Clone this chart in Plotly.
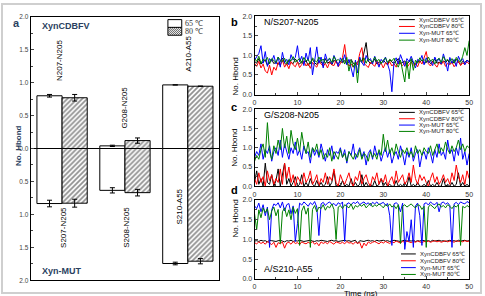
import plotly.graph_objects as go

# ---------------- Panel a data ----------------
PAIRS_POS = ["N207-N205", "G208-N205", "A210-A55"]
PAIRS_NEG = ["S207-N205", "S208-N205", "S210-A55"]
POS_65 = [0.80, 0.04, 0.965]
POS_65_ERR = [0.02, 0.01, 0.0]
POS_80 = [0.77, 0.12, 0.945]
POS_80_ERR = [0.05, 0.04, 0.0]
NEG_65 = [-0.835, -0.635, -1.745]
NEG_65_ERR = [0.05, 0.04, 0.02]
NEG_80 = [-0.83, -0.67, -1.71]
NEG_80_ERR = [0.06, 0.05, 0.04]
YTICK_VALS = [-2, -1.5, -1, -0.5, 0, 0.5, 1, 1.5, 2]
YTICK_TEXT = ["2.0", "1.5", "1.0", "0.5", "0.0", "0.5", "1.0", "1.5", "2.0"]
BAR_LEGEND = ["65 \u2103", "80 \u2103"]

# ---------------- Panels b-d data ----------------
TIME = [round(0.5 * i, 1) for i in range(101)]
SERIES_NAMES = ["XynCDBFV 65\u2103", "XynCDBFV 80\u2103", "Xyn-MUT 65\u2103", "Xyn-MUT 80\u2103"]
SERIES_COLORS = ["#000000", "#ff0000", "#0000ff", "#008000"]

B_K = [0.85,0.80,0.92,0.78,0.83,0.88,0.75,0.82,0.90,0.79,
       0.84,0.77,0.86,0.93,0.80,0.76,0.88,0.82,0.79,0.91,
       0.83,0.78,0.85,0.80,0.87,0.74,0.82,0.90,0.81,0.77,
       0.86,0.83,0.79,0.92,0.80,0.84,0.76,0.88,0.82,0.79,
       0.85,0.81,0.87,0.78,0.83,0.90,0.80,0.76,0.84,0.88,
       0.82,1.05,1.33,0.86,0.79,0.83,0.91,0.78,0.84,0.80,
       0.87,0.82,0.76,0.89,0.83,0.80,0.85,0.92,0.79,0.82,
       0.86,0.78,0.84,0.90,0.81,0.77,0.85,0.83,0.88,0.80,
       0.82,0.87,0.79,0.84,0.91,0.80,0.83,0.78,0.86,0.82,
       0.88,0.79,0.84,0.81,0.90,0.83,0.77,0.85,0.82,0.88,0.84]
B_R = [0.80,0.72,0.85,0.68,0.78,0.60,0.55,0.75,0.50,0.70,
       0.62,0.82,0.74,0.88,0.70,0.79,0.66,0.84,0.76,0.71,
       0.83,0.69,0.77,0.86,0.73,0.80,0.67,0.82,0.75,0.70,
       0.85,0.78,0.72,0.80,0.68,0.83,0.76,0.74,0.88,0.71,
       0.79,0.95,1.28,0.84,0.73,0.78,0.70,0.82,0.76,1.05,
       1.20,0.80,0.74,0.69,0.83,0.77,0.72,0.86,0.75,0.80,
       0.68,0.81,0.76,0.84,0.73,0.79,0.70,0.85,0.78,0.74,
       0.82,0.69,0.77,0.83,0.75,0.80,0.71,0.86,0.78,0.92,
       1.10,0.79,0.73,0.84,0.76,0.70,0.82,0.77,0.85,0.72,
       0.80,0.76,0.83,0.71,0.79,0.86,0.74,0.81,0.77,0.84,0.78]
B_B = [0.88,0.95,1.05,1.25,0.80,1.10,0.72,0.92,0.85,1.00,
       0.78,0.96,0.70,1.08,0.82,0.90,0.76,1.02,0.88,0.95,
       1.25,0.84,0.98,0.74,1.06,0.86,1.20,0.50,0.92,1.22,
       0.80,0.96,0.68,1.04,0.85,0.92,0.78,1.00,0.88,0.72,
       0.94,0.83,1.02,0.76,0.90,0.65,0.45,0.88,0.55,0.96,
       0.82,0.74,1.00,0.86,0.92,0.78,0.98,0.84,0.70,0.90,
       0.82,0.96,0.75,0.60,0.07,0.85,0.94,0.78,1.02,0.88,
       0.72,0.92,0.84,0.98,0.80,0.68,0.90,0.86,1.00,0.76,
       0.94,0.82,0.88,0.74,0.96,0.84,0.92,0.78,1.04,0.86,
       0.60,0.95,0.80,0.90,0.72,0.98,0.85,0.92,0.76,0.88,0.82]
B_G = [0.92,0.85,0.98,0.80,0.90,0.87,0.95,0.78,0.92,0.86,
       0.82,0.96,0.88,0.84,0.93,0.79,0.90,0.86,0.97,0.83,
       0.88,0.92,0.80,0.95,0.86,0.90,0.78,0.94,0.87,0.83,
       0.96,0.85,0.91,0.80,0.88,0.93,0.82,0.97,0.86,0.90,
       0.84,0.92,0.78,0.95,0.60,0.88,0.70,0.83,0.30,0.90,
       0.86,0.94,0.80,0.92,0.87,0.83,0.96,0.85,0.90,0.79,
       0.88,0.94,0.82,0.90,0.86,0.93,0.78,0.70,0.88,0.55,
       0.32,0.85,0.40,0.92,0.62,0.88,0.80,0.94,0.86,0.90,
       0.83,0.96,0.85,0.91,0.78,0.88,0.93,0.82,0.97,0.86,
       0.90,0.84,0.92,0.80,0.95,0.87,0.83,0.98,1.20,1.00,1.38]

C_K = [0.10,0.40,0.05,0.20,0.00,0.60,0.10,0.05,0.30,0.00,
       0.15,0.45,0.00,0.35,0.60,0.05,0.20,0.00,0.10,0.25,
       0.00,0.05,0.30,0.00,0.10,0.00,0.20,0.05,0.00,0.15,
       0.00,0.10,0.00,0.05,0.25,0.00,0.10,0.40,0.00,0.05,
       0.00,0.15,0.00,0.05,0.00,0.20,0.00,0.10,0.00,0.05,
       0.30,0.00,0.10,0.00,0.05,0.00,0.15,0.00,0.05,0.20,
       0.00,0.10,0.00,0.05,0.00,0.00,0.15,0.00,0.05,0.00,
       0.10,0.00,0.25,0.00,0.05,0.00,0.10,0.00,0.00,0.05,
       0.00,0.15,0.00,0.05,0.00,0.10,0.00,0.00,0.20,0.00,
       0.05,0.00,0.10,0.00,0.05,0.35,0.00,0.10,0.00,0.05,0.00]
C_R = [0.20,0.05,0.35,0.10,0.25,0.00,0.40,0.15,0.30,0.05,
       0.20,0.10,0.45,0.05,0.60,0.20,0.50,0.10,0.30,0.00,
       0.25,0.15,0.05,0.35,0.10,0.20,0.40,0.05,0.15,0.30,
       0.00,0.20,0.10,0.35,0.05,0.25,0.15,0.45,0.10,0.00,
       0.30,0.15,0.05,0.20,0.35,0.10,0.00,0.25,0.15,0.40,
       0.05,0.20,0.30,0.10,0.00,0.25,0.15,0.35,0.05,0.20,
       0.10,0.30,0.00,0.15,0.25,0.05,0.40,0.10,0.20,0.30,
       0.05,0.15,0.35,0.10,0.55,0.20,0.05,0.30,0.15,0.25,
       0.10,0.00,0.20,0.35,0.10,0.25,0.05,0.15,0.30,0.10,
       0.20,0.05,0.35,0.15,0.55,0.25,0.10,0.30,0.05,0.40,0.20]
C_B = [0.75,0.90,0.80,1.10,0.70,0.95,0.85,1.05,0.65,0.90,
       1.00,0.80,1.20,0.75,1.10,0.90,0.70,1.00,0.85,1.15,
       0.80,0.95,0.70,1.05,0.85,0.90,0.60,1.00,0.80,0.95,
       0.75,1.10,0.85,0.65,0.95,0.80,1.05,0.70,0.90,0.85,
       1.00,0.75,0.95,0.60,0.90,0.80,1.10,0.70,0.85,1.00,
       0.75,0.90,0.55,0.85,0.95,0.70,1.05,0.80,0.90,0.65,
       0.85,1.00,0.75,0.95,0.60,0.80,0.90,0.70,1.05,0.85,
       0.55,0.90,0.75,1.00,0.65,0.85,0.95,0.50,0.80,0.90,
       0.70,1.00,0.85,0.60,0.95,0.75,1.10,0.80,0.90,0.70,
       1.20,0.85,0.95,0.65,1.00,0.80,1.25,0.70,0.90,0.55,0.85]
C_G = [0.65,0.80,0.70,0.95,1.10,0.75,1.65,0.90,0.70,1.05,
       0.85,1.20,0.95,1.50,1.00,1.30,0.85,1.45,1.10,0.95,
       1.25,0.90,1.40,1.05,0.85,1.15,0.75,1.00,0.90,1.10,
       0.80,0.95,0.70,0.85,0.75,1.00,0.65,0.90,0.80,0.70,
       0.95,0.75,0.85,0.65,0.90,0.80,0.70,0.85,0.75,0.95,
       0.70,0.85,0.80,0.65,0.90,0.75,0.85,0.70,0.95,0.80,
       1.35,0.90,1.20,0.85,1.00,0.80,1.10,0.90,0.75,0.95,
       0.85,1.00,0.80,0.90,0.75,1.05,0.85,0.95,0.80,1.00,
       0.90,0.85,1.05,0.80,0.95,1.10,0.85,1.00,0.90,1.15,
       0.95,0.85,1.05,0.90,1.00,1.20,0.95,1.10,0.90,1.05,1.00]

D_K = [0.96,0.97,0.95,0.98,0.96,0.97,0.94,0.98,0.97,0.96,
       0.95,0.97,0.98,0.96,0.94,0.97,0.96,0.98,0.95,0.97,
       0.96,0.98,0.97,0.95,0.96,0.97,0.98,0.96,0.95,0.97,
       0.96,0.98,0.97,0.96,0.95,0.97,0.98,0.96,0.97,0.95,
       0.96,0.97,0.98,0.96,0.97,0.95,0.96,0.98,0.90,0.97,
       0.96,0.95,0.97,0.98,0.96,0.97,0.95,0.98,0.96,0.97,
       0.98,0.96,0.97,0.95,0.96,0.98,0.97,0.96,0.95,0.97,
       0.98,0.96,0.97,0.96,0.98,0.95,0.97,0.96,0.98,0.97,
       0.96,0.97,0.95,0.98,0.96,0.97,0.98,0.96,0.97,0.95,
       0.97,0.98,0.96,0.97,0.95,0.98,0.96,0.97,0.98,0.96,0.97]
D_R = [0.92,0.89,0.94,0.90,0.93,0.88,0.95,0.91,0.87,0.93,
       0.80,0.92,0.89,0.94,0.78,0.91,0.93,0.88,0.95,0.90,
       0.92,0.87,0.94,0.91,0.89,0.93,0.90,0.95,0.88,0.92,
       0.84,0.94,0.90,0.93,0.89,0.95,0.91,0.88,0.94,0.92,
       0.90,0.93,0.89,0.95,0.91,0.92,0.88,0.94,0.90,0.93,
       0.78,0.91,0.84,0.94,0.90,0.93,0.95,0.92,0.89,0.94,
       0.91,0.95,0.93,0.90,0.94,0.92,0.96,0.93,0.91,0.95,
       0.93,0.96,0.94,0.92,0.95,0.93,0.96,0.94,0.92,0.95,
       0.94,0.96,0.93,0.95,0.97,0.94,0.96,0.93,0.95,0.97,
       0.94,0.96,0.95,0.93,0.97,0.95,0.96,0.94,0.97,0.95,0.96]
D_B = [1.85,1.78,1.92,1.70,1.88,1.60,1.82,0.80,1.75,1.90,
       1.86,1.93,1.80,1.95,1.72,1.88,1.91,1.65,1.85,0.95,
       1.40,1.92,1.87,1.95,1.90,1.84,1.93,1.88,1.96,1.82,
       1.10,1.90,1.94,1.86,1.92,1.95,1.88,1.91,1.85,1.93,
       1.89,1.95,0.95,1.90,1.93,1.87,1.94,1.91,1.96,1.88,
       1.92,1.95,1.89,1.93,1.86,1.94,1.90,1.95,1.88,1.92,
       1.94,1.87,1.91,1.60,0.85,1.90,1.93,1.88,1.70,1.92,
       0.75,1.20,0.95,1.50,0.80,1.85,1.92,1.60,0.85,1.90,
       1.93,1.87,1.95,1.90,1.88,1.94,1.70,1.92,1.95,1.89,
       1.93,1.86,0.80,1.90,1.94,1.88,1.95,1.92,1.90,1.96,1.93]
D_G = [1.65,1.25,1.75,1.55,1.80,1.68,1.78,1.50,1.72,1.82,
       1.60,1.76,0.90,1.70,1.80,1.58,1.75,1.50,1.82,1.66,
       1.78,0.85,1.72,1.85,1.64,1.80,0.80,1.76,1.86,1.70,
       1.82,1.78,1.88,1.74,1.84,1.80,1.90,1.76,1.00,1.82,
       1.86,1.78,1.88,1.84,1.80,1.90,1.76,1.86,1.82,1.88,
       1.84,1.90,1.80,1.86,1.92,1.82,1.88,1.84,1.90,1.86,
       1.80,1.88,1.84,1.90,1.82,1.86,1.78,1.88,0.90,1.84,
       1.88,1.82,1.86,1.90,1.84,1.80,1.88,1.86,1.76,1.84,
       0.80,1.82,1.88,1.84,1.78,1.86,1.90,1.82,1.86,1.80,
       1.88,1.84,1.78,1.86,1.82,1.88,0.85,1.84,1.80,1.86,1.82]

PANEL_SERIES = [[B_K, B_R, B_B, B_G], [C_K, C_R, C_B, C_G], [D_K, D_R, D_B, D_G]]
PANEL_TITLES = ["N/S207-N205", "G/S208-N205", "A/S210-A55"]
PANEL_LETTERS = ["b", "c", "d"]
XTICKS = [0, 10, 20, 30, 40, 50]

W, H = 485, 296
def px(x):
    return x / W
def py(y):
    return 1 - y / H

FONT = "Liberation Sans, Arial, sans-serif"
TICKFONT = dict(family=FONT, size=7, color="#333")

fig = go.Figure()
shapes = []
annotations = []

# ---------------- Panel a bars ----------------
hatch = dict(shape="/", fgcolor="#222222", bgcolor="white", size=3.5, solidity=0.5)
bar_line = dict(color="black", width=1)
xs = [0, 1, 2]
for vals, errs, off, pat in [(POS_65, POS_65_ERR, -0.4, None), (POS_80, POS_80_ERR, 0, hatch),
                             (NEG_65, NEG_65_ERR, -0.4, None), (NEG_80, NEG_80_ERR, 0, hatch)]:
    marker = dict(color="white", line=bar_line)
    if pat:
        marker["pattern"] = pat
    fig.add_trace(go.Bar(x=xs, y=vals, width=0.4, offset=off, showlegend=False, marker=marker,
                         error_y=dict(type="data", array=errs, color="black", thickness=1, width=2.5),
                         xaxis="x", yaxis="y"))

pos_lab_y = [1.33, 0.62, 1.44]
pos_lab_x = [-0.03, 1.0, 2.02]
neg_lab_y = [-1.2, -1.19, -0.88]
neg_lab_x = [0.02, 1.03, 1.86]
for i in range(3):
    annotations.append(dict(x=pos_lab_x[i], y=pos_lab_y[i], xref="x", yref="y", text=PAIRS_POS[i],
                            textangle=-90, showarrow=False, font=dict(family=FONT, size=8, color="black")))
    annotations.append(dict(x=neg_lab_x[i], y=neg_lab_y[i], xref="x", yref="y", text=PAIRS_NEG[i],
                            textangle=-90, showarrow=False, font=dict(family=FONT, size=8, color="black")))
annotations.append(dict(x=px(38), y=py(23), xref="paper", yref="paper", text="<b>XynCDBFV</b>",
                        xanchor="left", yanchor="middle", showarrow=False, font=dict(family=FONT, size=9)))
annotations.append(dict(x=px(38), y=py(273), xref="paper", yref="paper", text="<b>Xyn-MUT</b>",
                        xanchor="left", yanchor="middle", showarrow=False, font=dict(family=FONT, size=9)))
annotations.append(dict(x=px(10), y=py(145), xref="paper", yref="paper", text="<b>No. Hbond</b>",
                        textangle=-90, showarrow=False, font=dict(family=FONT, size=8)))
annotations.append(dict(x=px(9), y=py(11), xref="paper", yref="paper", text="<b>a</b>",
                        showarrow=False, font=dict(family=FONT, size=11)))

# legend of panel a (swatches drawn as shapes)
lx0, lx1, ly0, ly1, ly2 = 168, 182, 16, 24, 32
shapes.append(dict(type="rect", xref="paper", yref="paper", x0=px(lx0), x1=px(lx1), y0=py(ly1), y1=py(ly0),
                   fillcolor="white", line=dict(color="black", width=1)))
shapes.append(dict(type="rect", xref="paper", yref="paper", x0=px(lx0), x1=px(lx1), y0=py(ly2), y1=py(ly1),
                   fillcolor="white", line=dict(color="black", width=1)))
seg = []
h = ly2 - ly1
for k in range(-h, lx1 - lx0, 2):
    t0 = max(0, -k)
    t1 = min(h, (lx1 - lx0) - k)
    if t1 <= t0:
        continue
    xa, ya = lx0 + k + t0, ly2 - t0
    xb, yb = lx0 + k + t1, ly2 - t1
    seg.append("M%.5f,%.5f L%.5f,%.5f" % (px(xa), py(ya), px(xb), py(yb)))
shapes.append(dict(type="path", xref="paper", yref="paper", path=" ".join(seg),
                   line=dict(color="#333333", width=0.8)))
for i, yy in enumerate([(ly0 + ly1) / 2, (ly1 + ly2) / 2]):
    annotations.append(dict(x=px(lx1 + 1.5), y=py(yy), xref="paper", yref="paper", text=BAR_LEGEND[i],
                            xanchor="left", yanchor="middle", showarrow=False,
                            font=dict(family="Liberation Serif, serif", size=8, color="#333")))

# ---------------- Panels b-d ----------------
panel_tops = [12.7, 107.7, 200.7]
panel_bots = [92.7, 186.7, 281.7]
x_dom = [px(255.7), px(473)]
legend_rows = [[16, 23, 30, 37], [111, 117.5, 124, 130.5], [256, 263, 270, 277]]
legend_line_x = [(402, 418), (402, 418), (404, 419)]
layout_axes = {}
for p in range(3):
    ax = p + 2
    xa_name = "x%d" % ax
    ya_name = "y%d" % ax
    for s in range(4):
        fig.add_trace(go.Scatter(x=TIME, y=PANEL_SERIES[p][s], mode="lines", name=SERIES_NAMES[s],
                                 line=dict(color=SERIES_COLORS[s], width=1), showlegend=False,
                                 xaxis=xa_name, yaxis=ya_name))
        ry = legend_rows[p][s]
        lxa, lxb = legend_line_x[p]
        shapes.append(dict(type="line", xref="paper", yref="paper", x0=px(lxa), x1=px(lxb),
                           y0=py(ry), y1=py(ry), line=dict(color=SERIES_COLORS[s], width=1)))
        annotations.append(dict(x=px(lxb + 2), y=py(ry), xref="paper", yref="paper", text=SERIES_NAMES[s],
                                xanchor="left", yanchor="middle", showarrow=False,
                                font=dict(family=FONT, size=6, color="#222")))
    layout_axes["xaxis%d" % ax] = dict(domain=x_dom, anchor=ya_name, range=[0, 50], tickvals=XTICKS,
                                       ticks="inside", ticklen=3, showline=True, linecolor="black",
                                       linewidth=1, mirror=True, showgrid=False, zeroline=False,
                                       tickfont=TICKFONT, minor=dict(dtick=5, ticks="inside", ticklen=2),
                                       ticklabelstandoff=1)
    layout_axes["yaxis%d" % ax] = dict(domain=[py(panel_bots[p]), py(panel_tops[p])], anchor=xa_name,
                                       range=[0, 2], dtick=0.5, tickformat=".1f",
                                       ticks="inside", ticklen=3, showline=True, linecolor="black",
                                       linewidth=1, mirror=True, showgrid=False, zeroline=False,
                                       tickfont=TICKFONT, minor=dict(dtick=0.25, ticks="inside", ticklen=2))
    title_y = panel_tops[p] + 6 if p < 2 else panel_bots[p] - 10
    annotations.append(dict(x=px(263), y=py(title_y), xref="paper", yref="paper", text=PANEL_TITLES[p],
                            xanchor="left", yanchor="middle", showarrow=False,
                            font=dict(family=FONT, size=9, color="black")))
    annotations.append(dict(x=px(236), y=py((panel_tops[p] + panel_bots[p]) / 2), xref="paper", yref="paper",
                            text="No. Hbond", textangle=-90, showarrow=False,
                            font=dict(family=FONT, size=8, color="black")))
    annotations.append(dict(x=px(235), y=py(panel_tops[p] - 2), xref="paper", yref="paper",
                            text="<b>%s</b>" % PANEL_LETTERS[p], showarrow=False,
                            font=dict(family=FONT, size=11, color="black")))

annotations.append(dict(x=px(364), y=py(290), xref="paper", yref="paper", text="Time (ns)",
                        xanchor="center", yanchor="top", showarrow=False,
                        font=dict(family=FONT, size=8, color="black")))

shapes.append(dict(type="rect", xref="paper", yref="paper", x0=0, y0=0, x1=1, y1=1,
                   line=dict(color="#cfcfcf", width=2)))

fig.update_layout(
    width=W, height=H, margin=dict(l=0, r=0, t=0, b=0),
    paper_bgcolor="white", plot_bgcolor="white",
    barmode="overlay", showlegend=False,
    xaxis=dict(domain=[px(29), px(220)], anchor="y", range=[-0.5, 2.5], showticklabels=False,
               ticks="", showline=True, linecolor="black", linewidth=1, mirror=True,
               showgrid=False, zeroline=False),
    yaxis=dict(domain=[py(283), py(13)], anchor="x", range=[-2, 2], tickvals=YTICK_VALS,
               ticktext=YTICK_TEXT, ticks="inside", ticklen=3, showline=True, linecolor="black",
               linewidth=1, mirror=True, showgrid=False, zeroline=True, zerolinecolor="black",
               zerolinewidth=1, tickfont=dict(family=FONT, size=6.5, color="#444"),
               minor=dict(dtick=0.25, ticks="inside", ticklen=2)),
    annotations=annotations,
    shapes=shapes,
    **layout_axes,
)

fig.write_html("out.html")
